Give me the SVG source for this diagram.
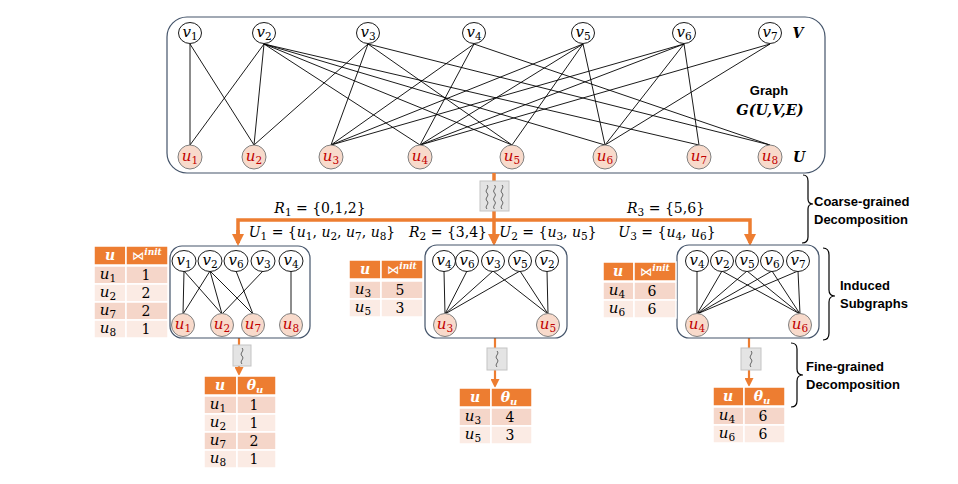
<svg xmlns="http://www.w3.org/2000/svg" width="958" height="484" viewBox="0 0 958 484">
<defs>
<style>
.e{stroke:#000;stroke-width:0.9;fill:none}
.vn{fill:#fff;stroke:#000;stroke-width:0.9}
.un{fill:#F8DACB;stroke:#808080;stroke-width:1}
.vt{font-family:"DejaVu Serif","Liberation Serif",serif;font-style:italic;font-size:15px;fill:#000;text-anchor:middle}
.ut{font-family:"DejaVu Serif","Liberation Serif",serif;font-style:italic;font-size:15px;fill:#C00000;text-anchor:middle}
.sub{font-size:10.5px;font-style:normal}
.box{fill:#fff;stroke:#44546A;stroke-width:1.2}
.pipe{stroke:#ED7D31;stroke-width:3.5;fill:none}
.pipe2{stroke:#ED7D31;stroke-width:2.2;fill:none}
.hd{fill:#ED7D31;stroke:#fff;stroke-width:1.5}
.r1{fill:#F5D6C9;stroke:#fff;stroke-width:1.5}
.r2{fill:#FBEBE4;stroke:#fff;stroke-width:1.5}
.ht{font-family:"DejaVu Serif","Liberation Serif",serif;font-style:italic;font-weight:bold;font-size:14px;fill:#fff;text-anchor:middle}
.tu{font-family:"DejaVu Serif","Liberation Serif",serif;font-style:italic;font-size:15px;fill:#000;text-anchor:middle}
.tn{font-family:"DejaVu Serif","Liberation Serif",serif;font-size:14px;fill:#000;text-anchor:middle}
.math{font-family:"DejaVu Serif","Liberation Serif",serif;font-size:14px;fill:#000}
.i{font-style:italic}
.lbl{font-family:"Liberation Sans",Arial,sans-serif;font-weight:bold;font-size:13px;fill:#000}
.brace{fill:none;stroke:#000;stroke-width:1.2}
.sq{fill:#E4E4E4;stroke:#C4C4C4;stroke-width:1}
.wv{fill:none;stroke:#444;stroke-width:0.8}
</style>
<marker id="ah" markerUnits="userSpaceOnUse" markerWidth="12" markerHeight="12" refX="9" refY="6" orient="auto">
<path d="M0,0 L12,6 L0,12 z" fill="#ED7D31"/>
</marker>
<marker id="ah2" markerUnits="userSpaceOnUse" markerWidth="9" markerHeight="9" refX="6" refY="4.5" orient="auto">
<path d="M0,0 L9,4.5 L0,9 z" fill="#ED7D31"/>
</marker>
</defs>
<rect width="958" height="484" fill="#fff"/>

<g id="graph-frame">
<rect class="box" x="167" y="17" width="658" height="156" rx="20"/>
<text class="lbl" x="769" y="95" text-anchor="middle" font-size="13.5">Graph</text>
<text x="770" y="115" text-anchor="middle" font-family="DejaVu Serif,Liberation Serif,serif" font-style="italic" font-weight="bold" font-size="14.5">G(U,V,E)</text>
<text x="798" y="38" text-anchor="middle" font-family="DejaVu Serif,Liberation Serif,serif" font-style="italic" font-weight="bold" font-size="14">V</text>
<text x="799" y="162" text-anchor="middle" font-family="DejaVu Serif,Liberation Serif,serif" font-style="italic" font-weight="bold" font-size="14">U</text>
</g>

<g id="connectors">
<line class="e" x1="190" y1="44" x2="190" y2="145"/>
<line class="e" x1="190" y1="44" x2="254" y2="145"/>
<line class="e" x1="264" y1="44" x2="190" y2="145"/>
<line class="e" x1="264" y1="44" x2="254" y2="145"/>
<line class="e" x1="264" y1="44" x2="420" y2="145"/>
<line class="e" x1="264" y1="44" x2="512" y2="145"/>
<line class="e" x1="264" y1="44" x2="605" y2="145"/>
<line class="e" x1="264" y1="44" x2="699" y2="145"/>
<line class="e" x1="368" y1="44" x2="254" y2="145"/>
<line class="e" x1="368" y1="44" x2="331" y2="145"/>
<line class="e" x1="368" y1="44" x2="512" y2="145"/>
<line class="e" x1="368" y1="44" x2="770" y2="145"/>
<line class="e" x1="474" y1="44" x2="331" y2="145"/>
<line class="e" x1="474" y1="44" x2="420" y2="145"/>
<line class="e" x1="474" y1="44" x2="770" y2="145"/>
<line class="e" x1="583" y1="44" x2="331" y2="145"/>
<line class="e" x1="583" y1="44" x2="420" y2="145"/>
<line class="e" x1="583" y1="44" x2="512" y2="145"/>
<line class="e" x1="583" y1="44" x2="605" y2="145"/>
<line class="e" x1="684" y1="44" x2="331" y2="145"/>
<line class="e" x1="684" y1="44" x2="420" y2="145"/>
<line class="e" x1="684" y1="44" x2="605" y2="145"/>
<line class="e" x1="684" y1="44" x2="699" y2="145"/>
<line class="e" x1="770" y1="44" x2="420" y2="145"/>
<line class="e" x1="770" y1="44" x2="605" y2="145"/>

<path class="pipe" d="M494,173 V243" marker-end="url(#ah)"/>
<path class="pipe" d="M238,243 V220 H750 V243" marker-end="url(#ah)"/>
<path class="pipe" d="M238,230 V243" marker-end="url(#ah)"/>
<path class="pipe2" d="M239,338 V373" marker-end="url(#ah2)"/>
<path class="pipe2" d="M495,338 V385" marker-end="url(#ah2)"/>
<path class="pipe2" d="M749,338 V384" marker-end="url(#ah2)"/>
</g>

<g id="coarse-op">
<rect class="sq" x="480" y="181" width="29" height="30"/>
<path class="wv" d="M487,185 c3,3 -3,5 0,8 s-3,5 0,8 s-3,5 0,8"/>
<path class="wv" d="M494.5,185 c3,3 -3,5 0,8 s-3,5 0,8 s-3,5 0,8"/>
<path class="wv" d="M502,185 c3,3 -3,5 0,8 s-3,5 0,8 s-3,5 0,8"/>
</g>
<g id="fine-op-1">
<rect class="sq" x="233" y="345" width="18" height="21"/>
<path class="wv" d="M242,348 c3,3 -3,5 0,8 s-3,5 0,8"/>
</g>
<g id="fine-op-2">
<rect class="sq" x="487" y="348" width="20" height="22"/>
<path class="wv" d="M497,351 c3,3 -3,5 0,8 s-3,5 0,8"/>
</g>
<g id="fine-op-3">
<rect class="sq" x="741" y="348" width="20" height="22"/>
<path class="wv" d="M751,351 c3,3 -3,5 0,8 s-3,5 0,8"/>
</g>

<g id="v1"><ellipse class="vn" cx="190" cy="33" rx="11.5" ry="10.5"/><text class="vt" x="190" y="37">v<tspan class="sub" dy="3">1</tspan></text></g>
<g id="v2"><ellipse class="vn" cx="264" cy="33" rx="11.5" ry="10.5"/><text class="vt" x="264" y="37">v<tspan class="sub" dy="3">2</tspan></text></g>
<g id="v3"><ellipse class="vn" cx="368" cy="33" rx="11.5" ry="10.5"/><text class="vt" x="368" y="37">v<tspan class="sub" dy="3">3</tspan></text></g>
<g id="v4"><ellipse class="vn" cx="474" cy="33" rx="11.5" ry="10.5"/><text class="vt" x="474" y="37">v<tspan class="sub" dy="3">4</tspan></text></g>
<g id="v5"><ellipse class="vn" cx="583" cy="33" rx="11.5" ry="10.5"/><text class="vt" x="583" y="37">v<tspan class="sub" dy="3">5</tspan></text></g>
<g id="v6"><ellipse class="vn" cx="684" cy="33" rx="11.5" ry="10.5"/><text class="vt" x="684" y="37">v<tspan class="sub" dy="3">6</tspan></text></g>
<g id="v7"><ellipse class="vn" cx="770" cy="33" rx="11.5" ry="10.5"/><text class="vt" x="770" y="37">v<tspan class="sub" dy="3">7</tspan></text></g>

<g id="u1"><circle class="un" cx="190" cy="157" r="12"/><text class="ut" x="190" y="161">u<tspan class="sub" dy="3">1</tspan></text></g>
<g id="u2"><circle class="un" cx="254" cy="157" r="12"/><text class="ut" x="254" y="161">u<tspan class="sub" dy="3">2</tspan></text></g>
<g id="u3"><circle class="un" cx="331" cy="157" r="12"/><text class="ut" x="331" y="161">u<tspan class="sub" dy="3">3</tspan></text></g>
<g id="u4"><circle class="un" cx="420" cy="157" r="12"/><text class="ut" x="420" y="161">u<tspan class="sub" dy="3">4</tspan></text></g>
<g id="u5"><circle class="un" cx="512" cy="157" r="12"/><text class="ut" x="512" y="161">u<tspan class="sub" dy="3">5</tspan></text></g>
<g id="u6"><circle class="un" cx="605" cy="157" r="12"/><text class="ut" x="605" y="161">u<tspan class="sub" dy="3">6</tspan></text></g>
<g id="u7"><circle class="un" cx="699" cy="157" r="12"/><text class="ut" x="699" y="161">u<tspan class="sub" dy="3">7</tspan></text></g>
<g id="u8"><circle class="un" cx="770" cy="157" r="12"/><text class="ut" x="770" y="161">u<tspan class="sub" dy="3">8</tspan></text></g>

<g id="labels">
<text class="math" x="320" y="213" text-anchor="middle"><tspan class="i">R</tspan><tspan class="sub" dy="3">1</tspan><tspan dy="-3"> = {0,1,2}</tspan></text>
<text class="math" x="322" y="237" text-anchor="middle"><tspan class="i">U</tspan><tspan class="sub" dy="3">1</tspan><tspan dy="-3"> = {</tspan><tspan class="i">u</tspan><tspan class="sub" dy="3">1</tspan><tspan dy="-3">, </tspan><tspan class="i">u</tspan><tspan class="sub" dy="3">2</tspan><tspan dy="-3">, </tspan><tspan class="i">u</tspan><tspan class="sub" dy="3">7</tspan><tspan dy="-3">, </tspan><tspan class="i">u</tspan><tspan class="sub" dy="3">8</tspan><tspan dy="-3">}</tspan></text>
<text class="math" x="487" y="237" text-anchor="end"><tspan class="i">R</tspan><tspan class="sub" dy="3">2</tspan><tspan dy="-3"> = {3,4}</tspan></text>
<text class="math" x="548" y="237" text-anchor="middle"><tspan class="i">U</tspan><tspan class="sub" dy="3">2</tspan><tspan dy="-3"> = {</tspan><tspan class="i">u</tspan><tspan class="sub" dy="3">3</tspan><tspan dy="-3">, </tspan><tspan class="i">u</tspan><tspan class="sub" dy="3">5</tspan><tspan dy="-3">}</tspan></text>
<text class="math" x="666" y="213" text-anchor="middle"><tspan class="i">R</tspan><tspan class="sub" dy="3">3</tspan><tspan dy="-3"> = {5,6}</tspan></text>
<text class="math" x="667" y="237" text-anchor="middle"><tspan class="i">U</tspan><tspan class="sub" dy="3">3</tspan><tspan dy="-3"> = {</tspan><tspan class="i">u</tspan><tspan class="sub" dy="3">4</tspan><tspan dy="-3">, </tspan><tspan class="i">u</tspan><tspan class="sub" dy="3">6</tspan><tspan dy="-3">}</tspan></text>
</g>

<g id="subgraph-1">
<rect class="box" x="170" y="246" width="140" height="92" rx="12"/>
<line class="e" x1="184" y1="271" x2="183" y2="314"/>
<line class="e" x1="184" y1="271" x2="222" y2="314"/>
<line class="e" x1="210" y1="271" x2="183" y2="314"/>
<line class="e" x1="210" y1="271" x2="222" y2="314"/>
<line class="e" x1="210" y1="271" x2="253" y2="314"/>
<line class="e" x1="236" y1="271" x2="253" y2="314"/>
<line class="e" x1="263" y1="271" x2="222" y2="314"/>
<line class="e" x1="291" y1="271" x2="291" y2="314"/>
<ellipse class="vn" cx="184" cy="261" rx="12" ry="10.5"/><text class="vt" x="184" y="265">v<tspan class="sub" dy="3">1</tspan></text>
<ellipse class="vn" cx="210" cy="261" rx="12" ry="10.5"/><text class="vt" x="210" y="265">v<tspan class="sub" dy="3">2</tspan></text>
<ellipse class="vn" cx="236" cy="261" rx="12" ry="10.5"/><text class="vt" x="236" y="265">v<tspan class="sub" dy="3">6</tspan></text>
<ellipse class="vn" cx="263" cy="261" rx="12" ry="10.5"/><text class="vt" x="263" y="265">v<tspan class="sub" dy="3">3</tspan></text>
<ellipse class="vn" cx="291" cy="261" rx="12" ry="10.5"/><text class="vt" x="291" y="265">v<tspan class="sub" dy="3">4</tspan></text>
<circle class="un" cx="183" cy="325" r="11.5"/><text class="ut" x="183" y="329">u<tspan class="sub" dy="3">1</tspan></text>
<circle class="un" cx="222" cy="325" r="11.5"/><text class="ut" x="222" y="329">u<tspan class="sub" dy="3">2</tspan></text>
<circle class="un" cx="253" cy="325" r="11.5"/><text class="ut" x="253" y="329">u<tspan class="sub" dy="3">7</tspan></text>
<circle class="un" cx="291" cy="325" r="11.5"/><text class="ut" x="291" y="329">u<tspan class="sub" dy="3">8</tspan></text>
</g>

<g id="subgraph-2">
<rect class="box" x="425" y="245" width="142" height="93" rx="12"/>
<line class="e" x1="444" y1="271" x2="445" y2="314"/>
<line class="e" x1="467" y1="271" x2="445" y2="314"/>
<line class="e" x1="493" y1="271" x2="445" y2="314"/>
<line class="e" x1="520" y1="271" x2="445" y2="314"/>
<line class="e" x1="493" y1="271" x2="548" y2="314"/>
<line class="e" x1="520" y1="271" x2="548" y2="314"/>
<line class="e" x1="547" y1="271" x2="548" y2="314"/>
<ellipse class="vn" cx="444" cy="261" rx="11.5" ry="10.5"/><text class="vt" x="444" y="265">v<tspan class="sub" dy="3">4</tspan></text>
<ellipse class="vn" cx="467" cy="261" rx="11.5" ry="10.5"/><text class="vt" x="467" y="265">v<tspan class="sub" dy="3">6</tspan></text>
<ellipse class="vn" cx="493" cy="261" rx="11.5" ry="10.5"/><text class="vt" x="493" y="265">v<tspan class="sub" dy="3">3</tspan></text>
<ellipse class="vn" cx="520" cy="261" rx="11.5" ry="10.5"/><text class="vt" x="520" y="265">v<tspan class="sub" dy="3">5</tspan></text>
<ellipse class="vn" cx="547" cy="261" rx="11.5" ry="10.5"/><text class="vt" x="547" y="265">v<tspan class="sub" dy="3">2</tspan></text>
<circle class="un" cx="445" cy="325" r="11.5"/><text class="ut" x="445" y="329">u<tspan class="sub" dy="3">3</tspan></text>
<circle class="un" cx="548" cy="325" r="11.5"/><text class="ut" x="548" y="329">u<tspan class="sub" dy="3">5</tspan></text>
</g>

<g id="subgraph-3">
<rect class="box" x="677" y="245" width="142" height="93" rx="12"/>
<line class="e" x1="697" y1="271" x2="697" y2="314"/>
<line class="e" x1="722" y1="271" x2="697" y2="314"/>
<line class="e" x1="747" y1="271" x2="697" y2="314"/>
<line class="e" x1="772" y1="271" x2="697" y2="314"/>
<line class="e" x1="798" y1="271" x2="697" y2="314"/>
<line class="e" x1="722" y1="271" x2="800" y2="314"/>
<line class="e" x1="747" y1="271" x2="800" y2="314"/>
<line class="e" x1="772" y1="271" x2="800" y2="314"/>
<line class="e" x1="798" y1="271" x2="800" y2="314"/>
<ellipse class="vn" cx="697" cy="261" rx="11.5" ry="10.5"/><text class="vt" x="697" y="265">v<tspan class="sub" dy="3">4</tspan></text>
<ellipse class="vn" cx="722" cy="261" rx="11.5" ry="10.5"/><text class="vt" x="722" y="265">v<tspan class="sub" dy="3">2</tspan></text>
<ellipse class="vn" cx="747" cy="261" rx="11.5" ry="10.5"/><text class="vt" x="747" y="265">v<tspan class="sub" dy="3">5</tspan></text>
<ellipse class="vn" cx="772" cy="261" rx="11.5" ry="10.5"/><text class="vt" x="772" y="265">v<tspan class="sub" dy="3">6</tspan></text>
<ellipse class="vn" cx="798" cy="261" rx="11.5" ry="10.5"/><text class="vt" x="798" y="265">v<tspan class="sub" dy="3">7</tspan></text>
<circle class="un" cx="697" cy="325" r="11.5"/><text class="ut" x="697" y="329">u<tspan class="sub" dy="3">4</tspan></text>
<circle class="un" cx="800" cy="325" r="11.5"/><text class="ut" x="800" y="329">u<tspan class="sub" dy="3">6</tspan></text>
</g>

<g id="table-init-1">
<rect class="hd" x="94" y="246" width="32" height="19"/><rect class="hd" x="126" y="246" width="42" height="19"/>
<text class="ht" x="110" y="260">u</text>
<text x="147" y="260" text-anchor="middle" fill="#fff"><tspan font-family="DejaVu Sans,sans-serif" font-size="12">⋈</tspan><tspan font-family="DejaVu Serif,serif" font-size="9" font-style="italic" font-weight="bold" dy="-5">init</tspan></text>
<rect class="r1" x="94" y="266" width="32" height="18"/><rect class="r1" x="126" y="266" width="42" height="18"/>
<rect class="r2" x="94" y="284" width="32" height="18"/><rect class="r2" x="126" y="284" width="42" height="18"/>
<rect class="r1" x="94" y="302" width="32" height="18"/><rect class="r1" x="126" y="302" width="42" height="18"/>
<rect class="r2" x="94" y="320" width="32" height="18"/><rect class="r2" x="126" y="320" width="42" height="18"/>
<text class="tu" x="108" y="279">u<tspan class="sub" dy="3">1</tspan></text><text class="tn" x="146" y="280">1</text>
<text class="tu" x="108" y="297">u<tspan class="sub" dy="3">2</tspan></text><text class="tn" x="146" y="298">2</text>
<text class="tu" x="108" y="315">u<tspan class="sub" dy="3">7</tspan></text><text class="tn" x="146" y="316">2</text>
<text class="tu" x="108" y="333">u<tspan class="sub" dy="3">8</tspan></text><text class="tn" x="146" y="334">1</text>
</g>

<g id="table-init-2">
<rect class="hd" x="349" y="260" width="32" height="19"/><rect class="hd" x="381" y="260" width="42" height="19"/>
<text class="ht" x="365" y="274">u</text>
<text x="402" y="274" text-anchor="middle" fill="#fff"><tspan font-family="DejaVu Sans,sans-serif" font-size="12">⋈</tspan><tspan font-family="DejaVu Serif,serif" font-size="9" font-style="italic" font-weight="bold" dy="-5">init</tspan></text>
<rect class="r1" x="349" y="281" width="32" height="18"/><rect class="r1" x="381" y="281" width="42" height="18"/>
<rect class="r2" x="349" y="299" width="32" height="18"/><rect class="r2" x="381" y="299" width="42" height="18"/>
<text class="tu" x="363" y="294">u<tspan class="sub" dy="3">3</tspan></text><text class="tn" x="400" y="295">5</text>
<text class="tu" x="363" y="312">u<tspan class="sub" dy="3">5</tspan></text><text class="tn" x="400" y="313">3</text>
</g>

<g id="table-init-3">
<rect class="hd" x="603" y="262" width="31" height="19"/><rect class="hd" x="634" y="262" width="42" height="19"/>
<text class="ht" x="618" y="276">u</text>
<text x="655" y="276" text-anchor="middle" fill="#fff"><tspan font-family="DejaVu Sans,sans-serif" font-size="12">⋈</tspan><tspan font-family="DejaVu Serif,serif" font-size="9" font-style="italic" font-weight="bold" dy="-5">init</tspan></text>
<rect class="r1" x="603" y="282" width="31" height="18"/><rect class="r1" x="634" y="282" width="42" height="18"/>
<rect class="r2" x="603" y="300" width="31" height="18"/><rect class="r2" x="634" y="300" width="42" height="18"/>
<text class="tu" x="617" y="295">u<tspan class="sub" dy="3">4</tspan></text><text class="tn" x="652" y="296">6</text>
<text class="tu" x="617" y="313">u<tspan class="sub" dy="3">6</tspan></text><text class="tn" x="652" y="314">6</text>
</g>

<g id="table-theta-1">
<rect class="hd" x="204" y="376" width="33" height="19"/><rect class="hd" x="237" y="376" width="39" height="19"/>
<text class="ht" x="220" y="390">u</text>
<text class="ht" x="255" y="390">θ<tspan font-size="10" dy="3">u</tspan></text>
<rect class="r1" x="204" y="396" width="33" height="18"/><rect class="r1" x="237" y="396" width="39" height="18"/>
<rect class="r2" x="204" y="414" width="33" height="18"/><rect class="r2" x="237" y="414" width="39" height="18"/>
<rect class="r1" x="204" y="432" width="33" height="18"/><rect class="r1" x="237" y="432" width="39" height="18"/>
<rect class="r2" x="204" y="450" width="33" height="18"/><rect class="r2" x="237" y="450" width="39" height="18"/>
<text class="tu" x="218" y="409">u<tspan class="sub" dy="3">1</tspan></text><text class="tn" x="254" y="410">1</text>
<text class="tu" x="218" y="427">u<tspan class="sub" dy="3">2</tspan></text><text class="tn" x="254" y="428">1</text>
<text class="tu" x="218" y="445">u<tspan class="sub" dy="3">7</tspan></text><text class="tn" x="254" y="446">2</text>
<text class="tu" x="218" y="463">u<tspan class="sub" dy="3">8</tspan></text><text class="tn" x="254" y="464">1</text>
</g>

<g id="table-theta-2">
<rect class="hd" x="459" y="388" width="32" height="19"/><rect class="hd" x="491" y="388" width="41" height="19"/>
<text class="ht" x="475" y="402">u</text>
<text class="ht" x="509" y="402">θ<tspan font-size="10" dy="3">u</tspan></text>
<rect class="r1" x="459" y="408" width="32" height="18"/><rect class="r1" x="491" y="408" width="41" height="18"/>
<rect class="r2" x="459" y="426" width="32" height="18"/><rect class="r2" x="491" y="426" width="41" height="18"/>
<text class="tu" x="473" y="421">u<tspan class="sub" dy="3">3</tspan></text><text class="tn" x="510" y="422">4</text>
<text class="tu" x="473" y="439">u<tspan class="sub" dy="3">5</tspan></text><text class="tn" x="510" y="440">3</text>
</g>

<g id="table-theta-3">
<rect class="hd" x="713" y="387" width="31" height="19"/><rect class="hd" x="744" y="387" width="41" height="19"/>
<text class="ht" x="728" y="401">u</text>
<text class="ht" x="762" y="401">θ<tspan font-size="10" dy="3">u</tspan></text>
<rect class="r1" x="713" y="407" width="31" height="18"/><rect class="r1" x="744" y="407" width="41" height="18"/>
<rect class="r2" x="713" y="425" width="31" height="18"/><rect class="r2" x="744" y="425" width="41" height="18"/>
<text class="tu" x="727" y="420">u<tspan class="sub" dy="3">4</tspan></text><text class="tn" x="763" y="421">6</text>
<text class="tu" x="727" y="438">u<tspan class="sub" dy="3">6</tspan></text><text class="tn" x="763" y="439">6</text>
</g>

<g id="brace-coarse">
<path class="brace" d="M803,175 Q808,175 808,181 L808,199 Q808,204 813,204 Q808,204 808,209 L808,237 Q808,243 802,243"/>
<text class="lbl" x="814" y="206">Coarse-grained</text>
<text class="lbl" x="814" y="224">Decomposition</text>
</g>
<g id="brace-induced">
<path class="brace" d="M823,248 Q829,248 829,255 L829,290 Q829,296 835,296 Q829,296 829,302 L829,333 Q829,340 823,340"/>
<text class="lbl" x="840" y="290">Induced</text>
<text class="lbl" x="840" y="308">Subgraphs</text>
</g>
<g id="brace-fine">
<path class="brace" d="M791,343 Q797,343 797,349 L797,369 Q797,375 803,375 Q797,375 797,381 L797,401 Q797,407 791,407"/>
<text class="lbl" x="806" y="371">Fine-grained</text>
<text class="lbl" x="806" y="389">Decomposition</text>
</g>
</svg>
